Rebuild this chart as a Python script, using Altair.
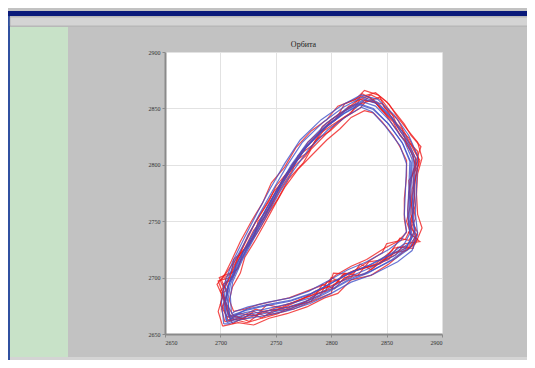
import altair as alt
import pandas as pd

# ---- axis ticks ----
tick_values = [2650, 2700, 2750, 2800, 2850, 2900]

# ---- orbit traces (x, y) ----
blue_a = [(2708,2666),(2707,2681),(2709,2694),(2718,2714),(2729,2734),(2740,2754),(2751,2775),(2764,2796),(2778,2816),(2795,2833),(2812,2846),(2826,2854),(2838,2850),(2851,2837),(2864,2820),(2871,2803),(2870,2778),(2869,2756),(2871,2739),(2866,2730),(2855,2722),(2834,2711),(2816,2704),(2798,2694),(2781,2685),(2763,2679),(2741,2675),(2723,2671),(2711,2667),(2708,2666)]
blue_b = [(2705,2662),(2703,2680),(2705,2694),(2713,2715),(2724,2735),(2735,2756),(2747,2777),(2760,2799),(2774,2820),(2793,2838),(2811,2851),(2828,2860),(2841,2856),(2855,2842),(2868,2824),(2876,2806),(2875,2779),(2874,2756),(2876,2737),(2871,2726),(2858,2717),(2836,2706),(2817,2699),(2799,2689),(2780,2680),(2762,2674),(2740,2670),(2721,2667),(2709,2663),(2705,2662)]
blue_c = [(2707,2665),(2705,2679),(2707,2692),(2716,2712),(2727,2732),(2738,2752),(2750,2773),(2763,2795),(2777,2815),(2795,2834),(2813,2848),(2828,2856),(2840,2852),(2853,2839),(2866,2821),(2873,2805),(2872,2777),(2871,2754),(2873,2736),(2868,2727),(2856,2719),(2834,2708),(2817,2701),(2799,2691),(2781,2682),(2763,2677),(2740,2672),(2722,2669),(2710,2665),(2707,2665)]
blue_d = [(2709,2663),(2706,2683),(2708,2696),(2717,2716),(2728,2736),(2739,2757),(2751,2778),(2764,2800),(2778,2819),(2796,2837),(2814,2850),(2830,2858),(2842,2854),(2855,2841),(2867,2823),(2874,2807),(2874,2780),(2873,2758),(2875,2740),(2871,2731),(2859,2723),(2837,2712),(2819,2705),(2800,2695),(2782,2686),(2764,2680),(2742,2676),(2724,2672),(2712,2666),(2709,2663)]
blue_e = [(2706,2660),(2704,2677),(2706,2690),(2714,2711),(2725,2731),(2736,2751),(2748,2772),(2761,2794),(2775,2814),(2793,2832),(2811,2845),(2826,2853),(2838,2849),(2852,2836),(2865,2818),(2872,2802),(2871,2776),(2870,2753),(2872,2735),(2867,2725),(2855,2716),(2833,2704),(2815,2697),(2797,2687),(2779,2678),(2761,2672),(2739,2668),(2720,2665),(2708,2661),(2706,2660)]
blue_f = [(2703,2659),(2701,2678),(2703,2693),(2711,2714),(2722,2736),(2733,2757),(2745,2779),(2758,2801),(2772,2822),(2791,2840),(2810,2853),(2827,2862),(2842,2858),(2857,2844),(2870,2826),(2878,2808),(2877,2781),(2876,2757),(2878,2738),(2873,2724),(2860,2714),(2838,2703),(2818,2696),(2800,2686),(2781,2677),(2762,2671),(2739,2666),(2719,2663),(2707,2659),(2703,2659)]
blue_g = [(2710,2668),(2709,2683),(2711,2696),(2720,2716),(2731,2736),(2742,2755),(2753,2775),(2766,2795),(2780,2814),(2797,2831),(2814,2843),(2827,2851),(2837,2847),(2849,2834),(2862,2817),(2868,2801),(2867,2777),(2866,2756),(2868,2741),(2863,2733),(2852,2725),(2832,2714),(2815,2707),(2797,2697),(2780,2688),(2763,2682),(2742,2678),(2725,2674),(2713,2670),(2710,2668)]

red_1 = [(2704,2661),(2701,2672),(2705,2680),(2700,2688),(2706,2695),(2713,2712),(2722,2730),(2731,2748),(2744,2768),(2750,2781),(2762,2795),(2774,2813),(2788,2826),(2792,2834),(2808,2846),(2820,2852),(2828,2863),(2838,2858),(2844,2850),(2856,2838),(2862,2826),(2870,2818),(2876,2806),(2878,2796),(2873,2778),(2872,2756),(2876,2742),(2870,2733),(2862,2735),(2855,2724),(2840,2712),(2822,2706),(2808,2696),(2800,2700),(2795,2688),(2778,2683),(2760,2676),(2745,2668),(2732,2672),(2720,2666),(2710,2662),(2704,2661)]
red_2 = [(2708,2668),(2703,2684),(2698,2697),(2709,2700),(2712,2716),(2726,2729),(2733,2744),(2741,2760),(2747,2771),(2758,2790),(2771,2806),(2779,2820),(2797,2836),(2806,2842),(2816,2852),(2830,2855),(2844,2860),(2848,2851),(2860,2840),(2866,2829),(2875,2812),(2880,2804),(2876,2790),(2875,2770),(2873,2750),(2878,2740),(2873,2728),(2862,2724),(2850,2718),(2836,2707),(2826,2712),(2818,2700),(2802,2694),(2800,2686),(2785,2680),(2766,2672),(2748,2671),(2737,2664),(2724,2660),(2712,2663),(2708,2668)]
red_3 = [(2711,2659),(2706,2670),(2702,2686),(2707,2690),(2704,2700),(2716,2708),(2720,2722),(2731,2738),(2734,2750),(2746,2764),(2756,2786),(2768,2800),(2777,2808),(2786,2822),(2799,2830),(2812,2842),(2826,2850),(2832,2857),(2846,2854),(2852,2846),(2862,2830),(2870,2820),(2878,2812),(2879,2800),(2870,2786),(2872,2766),(2868,2750),(2872,2738),(2880,2732),(2866,2730),(2858,2720),(2845,2714),(2830,2703),(2812,2700),(2803,2690),(2792,2694),(2782,2679),(2763,2674),(2752,2668),(2738,2664),(2728,2668),(2716,2662),(2711,2659)]
red_4 = [(2706,2665),(2700,2676),(2703,2690),(2699,2700),(2711,2705),(2716,2718),(2728,2734),(2739,2752),(2745,2762),(2754,2778),(2765,2795),(2770,2808),(2784,2818),(2800,2840),(2814,2849),(2822,2856),(2836,2862),(2846,2857),(2855,2845),(2860,2834),(2870,2824),(2874,2816),(2879,2805),(2874,2795),(2870,2774),(2874,2758),(2871,2742),(2867,2734),(2850,2730),(2846,2722),(2830,2712),(2816,2703),(2802,2704),(2798,2692),(2786,2688),(2772,2680),(2756,2673),(2742,2676),(2732,2666),(2718,2668),(2706,2665)]
red_5 = [(2709,2663),(2704,2678),(2707,2688),(2702,2694),(2710,2698),(2718,2714),(2724,2726),(2736,2744),(2744,2758),(2752,2770),(2762,2788),(2775,2802),(2782,2814),(2794,2826),(2806,2838),(2818,2846),(2826,2858),(2840,2855),(2848,2846),(2856,2835),(2866,2822),(2872,2812),(2876,2800),(2871,2784),(2869,2760),(2870,2746),(2877,2738),(2874,2726),(2860,2727),(2852,2716),(2836,2710),(2820,2706),(2806,2698),(2796,2696),(2790,2684),(2770,2676),(2754,2672),(2738,2670),(2726,2661),(2714,2666),(2709,2663)]
red_6 = [(2712,2666),(2707,2674),(2701,2684),(2705,2696),(2712,2702),(2714,2712),(2722,2726),(2730,2742),(2740,2754),(2749,2774),(2760,2792),(2766,2802),(2780,2812),(2790,2828),(2802,2836),(2816,2845),(2824,2852),(2834,2860),(2842,2853),(2853,2842),(2864,2832),(2868,2818),(2874,2808),(2877,2792),(2873,2772),(2876,2752),(2870,2740),(2878,2734),(2868,2724),(2856,2722),(2844,2712),(2826,2708),(2810,2702),(2800,2690),(2788,2686),(2776,2678),(2758,2670),(2740,2666),(2730,2670),(2720,2663),(2712,2666)]
red_7 = [(2702,2657),(2698,2670),(2702,2683),(2697,2694),(2704,2703),(2710,2715),(2718,2732),(2728,2750),(2738,2766),(2746,2784),(2758,2798),(2768,2815),(2782,2830),(2796,2840),(2806,2852),(2822,2858),(2830,2866),(2842,2862),(2852,2854),(2860,2842),(2868,2832),(2878,2820),(2882,2806),(2878,2792),(2877,2774),(2878,2756),(2882,2744),(2876,2730),(2864,2722),(2852,2712),(2836,2702),(2818,2698),(2806,2686),(2794,2682),(2778,2674),(2760,2668),(2744,2664),(2730,2658),(2716,2660),(2702,2657)]
red_8 = [(2712,2670),(2708,2680),(2711,2692),(2718,2704),(2722,2718),(2732,2734),(2740,2748),(2750,2766),(2758,2780),(2770,2796),(2782,2808),(2796,2822),(2808,2832),(2818,2842),(2830,2848),(2838,2846),(2846,2838),(2856,2826),(2862,2816),(2868,2804),(2868,2790),(2866,2770),(2866,2752),(2868,2740),(2860,2732),(2848,2726),(2832,2716),(2818,2710),(2804,2702),(2794,2694),(2778,2688),(2762,2682),(2748,2679),(2734,2676),(2722,2672),(2712,2670)]
red_9 = [(2707,2662),(2702,2675),(2706,2686),(2701,2698),(2708,2708),(2717,2720),(2725,2738),(2736,2756),(2748,2776),(2757,2786),(2766,2800),(2778,2816),(2791,2830),(2804,2840),(2812,2854),(2826,2860),(2840,2864),(2850,2856),(2858,2846),(2866,2836),(2872,2826),(2881,2816),(2876,2802),(2874,2784),(2876,2764),(2871,2750),(2876,2736),(2870,2728),(2856,2726),(2848,2716),(2834,2714),(2824,2702),(2812,2704),(2804,2694),(2792,2690),(2782,2684),(2766,2678),(2752,2674),(2736,2668),(2724,2664),(2707,2662)]

blue_traces = {"b1": blue_a, "b2": blue_b, "b3": blue_c, "b4": blue_d, "b5": blue_e, "b6": blue_f, "b7": blue_g}
red_traces = {"r1": red_1, "r2": red_2, "r3": red_3, "r4": red_4, "r5": red_5, "r6": red_6,
              "r7": red_7, "r8": red_8, "r9": red_9}

chart_title = "Орбита"

rows = []
for group, traces in (("red", red_traces), ("blue", blue_traces)):
    for name, pts in traces.items():
        for i, (x, y) in enumerate(pts):
            rows.append({"trace": name, "group": group, "i": i, "x": x, "y": y})
df = pd.DataFrame(rows)

W, H = 277, 282

one = alt.Data(values=[{}])

# decorative window chrome
title_bar = alt.Chart(one).mark_rect(color="#0a1a7a").encode(
    x=alt.value(-157), x2=alt.value(370), y=alt.value(-41), y2=alt.value(-36))
tab_bar = alt.Chart(one).mark_rect(color="#d4d4d4", stroke="#9a9a9a", strokeWidth=0.5).encode(
    x=alt.value(-155), x2=alt.value(370), y=alt.value(-35), y2=alt.value(-26))
green_panel = alt.Chart(one).mark_rect(color="#c8e2c8").encode(
    x=alt.value(-155), x2=alt.value(-97), y=alt.value(-25), y2=alt.value(305))
bottom_bar = alt.Chart(one).mark_rect(color="#d4d4d4").encode(
    x=alt.value(-155), x2=alt.value(370), y=alt.value(305), y2=alt.value(310))
left_border = alt.Chart(one).mark_rect(color="#3050a0").encode(
    x=alt.value(-157), x2=alt.value(-155), y=alt.value(-41), y2=alt.value(310))
title_text = alt.Chart(one).mark_text(font="Liberation Serif", fontSize=8, color="#222", baseline="bottom").encode(
    x=alt.value(W / 2), y=alt.value(-3), text=alt.value(chart_title))

xs = alt.Scale(domain=[2650, 2900], nice=False, zero=False)
ys = alt.Scale(domain=[2650, 2900], nice=False, zero=False)

axis_kw = dict(values=tick_values, format="d", labelFontSize=6, labelFont="Liberation Serif",
               labelColor="#333", domainColor="#8a8a8a", domainWidth=2, tickColor="#8a8a8a",
               tickSize=3, gridColor="#e2e2e2", labelPadding=2)

lines = alt.Chart(df).mark_line(strokeWidth=1.2, opacity=0.78, clip=True).encode(
    x=alt.X("x:Q", scale=xs, title=None, axis=alt.Axis(**axis_kw)),
    y=alt.Y("y:Q", scale=ys, title=None, axis=alt.Axis(**axis_kw)),
    detail="trace:N",
    order="i:Q",
    color=alt.Color("group:N", scale=alt.Scale(domain=["red", "blue"], range=["#f01818", "#3d4fc8"]), legend=None),
)

chart = alt.layer(left_border, title_bar, tab_bar, green_panel, bottom_bar, title_text, lines).properties(
    width=W, height=H,
    background="#c2c2c2",
    padding={"left": 157, "top": 44, "right": 85, "bottom": 26},
    autosize=alt.AutoSizeParams(type="none"),
).configure_view(fill="white", stroke=None)

chart.save("out.html", embed_options={"renderer": "svg", "actions": False})
